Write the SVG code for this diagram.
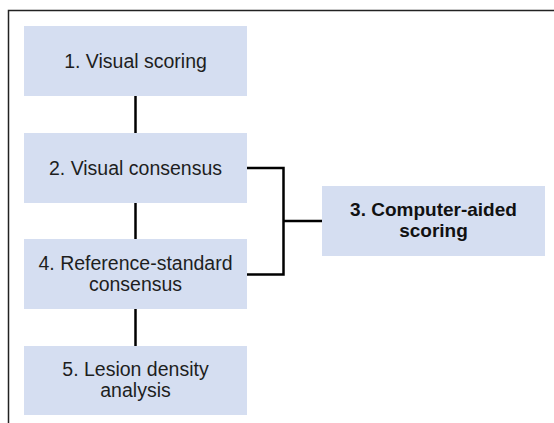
<svg xmlns="http://www.w3.org/2000/svg" width="554" height="423" viewBox="0 0 554 423">
  <style>
    .box { fill: #d5def1; }
    .lbl { font-family: "Liberation Sans", Arial, sans-serif; font-size: 19.5px; fill: #1e1e1e; text-anchor: middle; }
    .bold { font-weight: bold; font-size: 19px; fill: #111; }
    .wire { stroke: #000; stroke-width: 2.5; fill: none; }
    .frame { stroke: #222; stroke-width: 1.5; fill: none; }
  </style>
  <rect width="554" height="423" fill="#fff"/>
  <!-- outer frame (top and left edges) -->
  <path class="frame" d="M8.5,423 V10.5 H554"/>

  <g id="connectors">
    <line class="wire" x1="135.5" y1="96" x2="135.5" y2="133"/>
    <line class="wire" x1="135.5" y1="203" x2="135.5" y2="239"/>
    <line class="wire" x1="135.5" y1="309" x2="135.5" y2="346"/>
    <path class="wire" d="M247,168 H283.5 V274.5 H247"/>
    <line class="wire" x1="283.5" y1="221" x2="322" y2="221"/>
  </g>

  <g id="node1">
    <rect class="box" x="24" y="26" width="223" height="70"/>
    <text class="lbl" x="135.5" y="67.5">1. Visual scoring</text>
  </g>
  <g id="node2">
    <rect class="box" x="24" y="133" width="223" height="70"/>
    <text class="lbl" x="135.5" y="174.5">2. Visual consensus</text>
  </g>
  <g id="node4">
    <rect class="box" x="24" y="239" width="223" height="70"/>
    <text class="lbl" x="135.5" y="269.5">4. Reference-standard</text>
    <text class="lbl" x="135.5" y="290.5">consensus</text>
  </g>
  <g id="node5">
    <rect class="box" x="24" y="346" width="223" height="69"/>
    <text class="lbl" x="135.5" y="375.5">5. Lesion density</text>
    <text class="lbl" x="135.5" y="396.5">analysis</text>
  </g>
  <g id="node3">
    <rect class="box" x="322" y="186" width="223" height="70"/>
    <text class="lbl bold" x="433.5" y="215.5">3. Computer-aided</text>
    <text class="lbl bold" x="433.5" y="236.5">scoring</text>
  </g>
</svg>
